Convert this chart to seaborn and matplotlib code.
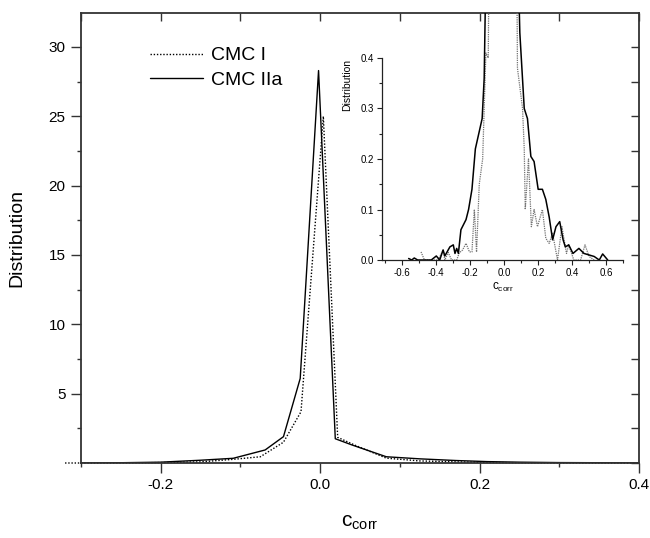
import matplotlib
matplotlib.use("Agg")
import matplotlib.pyplot as plt
import seaborn as sns
import numpy as np
from matplotlib.ticker import FixedLocator

# ---- main panel data ----
main_x_cmc1 = [-0.32, -0.28, -0.24, -0.2, -0.15, -0.11, -0.075, -0.046, -0.024, 0.004,
               0.022, 0.045, 0.083, 0.125, 0.17, 0.21, 0.25, 0.3, 0.35, 0.4]
main_y_cmc1 = [0.0, 0.0, 0.01, 0.03, 0.08, 0.26, 0.45, 1.5, 3.7, 25.0,
               1.85, 1.25, 0.35, 0.15, 0.08, 0.04, 0.02, 0.01, 0.0, 0.0]

main_x_cmc2 = [-0.3, -0.25, -0.2, -0.15, -0.109, -0.069, -0.046, -0.025, -0.002,
               0.019, 0.04, 0.083, 0.125, 0.17, 0.21, 0.25, 0.3, 0.35, 0.4]
main_y_cmc2 = [0.0, 0.02, 0.06, 0.2, 0.34, 0.94, 1.9, 6.1, 28.3,
               1.75, 1.3, 0.45, 0.3, 0.18, 0.1, 0.06, 0.03, 0.02, 0.0]

# ---- inset data ----
ins_x_cmc2 = [-0.563, -0.545, -0.53, -0.51, -0.49, -0.43, -0.40, -0.38, -0.36, -0.35,
              -0.32, -0.30, -0.29, -0.28, -0.27, -0.255, -0.225, -0.21, -0.19, -0.17,
              -0.13, -0.118, -0.10, -0.05, 0.0, 0.05, 0.07, 0.092, 0.118, 0.137,
              0.157, 0.176, 0.2, 0.225, 0.245, 0.265, 0.285, 0.305, 0.327, 0.347,
              0.36, 0.38, 0.405, 0.44, 0.47, 0.5, 0.53, 0.56, 0.58, 0.61]
ins_y_cmc2 = [0.003, 0.0, 0.004, 0.0, 0.0, 0.0, 0.008, 0.0, 0.02, 0.008,
              0.026, 0.03, 0.013, 0.023, 0.013, 0.06, 0.08, 0.1, 0.14, 0.22,
              0.28, 0.36, 0.75, 2.0, 20.0, 2.0, 0.75, 0.45, 0.30, 0.28,
              0.205, 0.195, 0.14, 0.14, 0.12, 0.085, 0.04, 0.066, 0.076, 0.04,
              0.026, 0.03, 0.013, 0.023, 0.013, 0.01, 0.007, 0.0, 0.012, 0.0]

ins_x_cmc1 = [-0.49, -0.47, -0.39, -0.36, -0.35, -0.33, -0.31, -0.28, -0.265, -0.245,
              -0.225, -0.205, -0.19, -0.176, -0.163, -0.147, -0.127, -0.108, -0.094, -0.085,
              -0.04, 0.0, 0.04, 0.07, 0.078, 0.108, 0.118, 0.124, 0.143, 0.16,
              0.176, 0.196, 0.225, 0.245, 0.265, 0.285, 0.314, 0.34, 0.353, 0.367,
              0.38, 0.41, 0.45, 0.476, 0.5, 0.53]
ins_y_cmc1 = [0.016, 0.0, 0.0, 0.02, 0.0, 0.015, 0.0, 0.0, 0.014, 0.02,
              0.033, 0.016, 0.016, 0.1, 0.016, 0.15, 0.2, 0.41, 0.40, 0.8,
              3.0, 25.0, 3.0, 0.8, 0.38, 0.30, 0.22, 0.1, 0.2, 0.066,
              0.1, 0.066, 0.1, 0.043, 0.033, 0.053, 0.0, 0.066, 0.04, 0.013,
              0.03, 0.0, 0.0, 0.03, 0.007, 0.0]

series_labels = ["CMC I", "CMC IIa"]
main_xticks = [-0.2, 0.0, 0.2, 0.4]
main_yticks = [5, 10, 15, 20, 25, 30]
ins_xticks = [-0.6, -0.4, -0.2, 0.0, 0.2, 0.4, 0.6]
ins_yticks = [0.0, 0.1, 0.2, 0.3, 0.4]

sns.set_style("ticks")
plt.rcParams['font.family'] = ['Liberation Sans', 'DejaVu Sans']
plt.rcParams['mathtext.fontset'] = 'custom'
plt.rcParams['mathtext.rm'] = 'Liberation Sans'
plt.rcParams['mathtext.it'] = 'Liberation Sans'
plt.rcParams['text.color'] = 'black'
plt.rcParams['axes.labelcolor'] = 'black'
plt.rcParams['xtick.color'] = '#222222'
plt.rcParams['ytick.color'] = '#222222'
plt.rcParams['xtick.labelcolor'] = 'black'
plt.rcParams['ytick.labelcolor'] = 'black'

fig = plt.figure(figsize=(6.5, 5.38), dpi=100)
ax = fig.add_axes([0.1246, 0.1394, 0.8585, 0.8364])

dot_style = (0, (1, 1.3))
sns.lineplot(x=main_x_cmc1, y=main_y_cmc1, ax=ax, color='black', linewidth=1.0,
             linestyle=dot_style, label=series_labels[0], sort=False, clip_on=False)
sns.lineplot(x=main_x_cmc2, y=main_y_cmc2, ax=ax, color='black', linewidth=1.0,
             label=series_labels[1], sort=False)

ax.set_xlim(-0.3, 0.4)
ax.set_ylim(0, 32.45)
ax.xaxis.set_major_locator(FixedLocator(main_xticks))
ax.xaxis.set_minor_locator(FixedLocator([-0.3, -0.1, 0.1, 0.3]))
ax.yaxis.set_major_locator(FixedLocator(main_yticks))
ax.yaxis.set_minor_locator(FixedLocator([2.5, 7.5, 12.5, 17.5, 22.5, 27.5]))
ax.set_xticklabels([f"{v:.1f}" for v in main_xticks])
ax.set_yticklabels([str(v) for v in main_yticks])
ax.tick_params(which='major', direction='out', length=7, width=1.0, labelsize=11,
               pad=4, color='#333333')
ax.tick_params(which='minor', direction='out', length=3, width=1.0, color='#333333')
for s in ax.spines.values():
    s.set_linewidth(1.3)
    s.set_color('#333333')

# top and right inward ticks
sec_top = ax.secondary_xaxis('top')
sec_top.xaxis.set_major_locator(FixedLocator([-0.3, -0.2, -0.1, 0.0, 0.1, 0.2, 0.3, 0.4]))
sec_top.tick_params(direction='in', length=6, width=1.0, labeltop=False, color='#333333')
sec_top.spines['top'].set_visible(False)
sec_right = ax.secondary_yaxis('right')
sec_right.yaxis.set_major_locator(FixedLocator(list(np.arange(0, 32.5, 2.5))))
sec_right.tick_params(direction='in', length=6, width=1.0, labelright=False, color='#333333')
sec_right.spines['right'].set_visible(False)

ax.set_ylabel("Distribution", fontsize=14)
ax.yaxis.set_label_coords(-0.10, 0.5)
ax.set_xlabel(r"$\mathregular{c_{corr}}$", fontsize=15)
ax.xaxis.set_label_coords(0.5, -0.11)

leg = ax.legend(loc='upper left', bbox_to_anchor=(0.124, 0.925), frameon=False,
                fontsize=14, handlelength=2.7, handletextpad=0.45, labelspacing=0.35,
                borderpad=0, borderaxespad=0)

# ---- inset ----
ins = fig.add_axes([0.5877, 0.5167, 0.3708, 0.4591])
ins.patch.set_alpha(0)
sns.lineplot(x=ins_x_cmc1, y=ins_y_cmc1, ax=ins, color='0.45', linewidth=0.9,
             linestyle=(0, (1, 0.8)), sort=False)
sns.lineplot(x=ins_x_cmc2, y=ins_y_cmc2, ax=ins, color='black', linewidth=1.1, sort=False)
ins.set_xlim(-0.72, 0.70)
ins.set_ylim(0, 0.489)
ins.spines['top'].set_visible(False)
ins.spines['right'].set_visible(False)
ins.spines['left'].set_bounds(0, 0.4)
for k in ['left', 'bottom']:
    ins.spines[k].set_linewidth(0.9)
    ins.spines[k].set_color('#222222')
ins.xaxis.set_major_locator(FixedLocator(ins_xticks))
ins.xaxis.set_minor_locator(FixedLocator([-0.7, -0.5, -0.3, -0.1, 0.1, 0.3, 0.5, 0.7]))
ins.yaxis.set_major_locator(FixedLocator(ins_yticks))
ins.yaxis.set_minor_locator(FixedLocator([0.05, 0.15, 0.25, 0.35]))
ins.set_xticklabels([f"{v:.1f}" for v in ins_xticks])
ins.set_yticklabels([f"{v:.1f}" for v in ins_yticks])
ins.tick_params(which='major', direction='out', length=3.5, width=0.8, labelsize=7, pad=2)
ins.tick_params(which='minor', direction='out', length=2, width=0.8)
ins.set_ylabel("Distribution", fontsize=7.5)
ins.yaxis.set_label_coords(-0.125, 0.71)
ins.set_xlabel(r"$\mathregular{c_{corr}}$", fontsize=8.5)
ins.xaxis.set_label_coords(0.5, -0.085)
if ins.get_legend() is not None:
    ins.get_legend().remove()

fig.savefig("out.png", dpi=100)
